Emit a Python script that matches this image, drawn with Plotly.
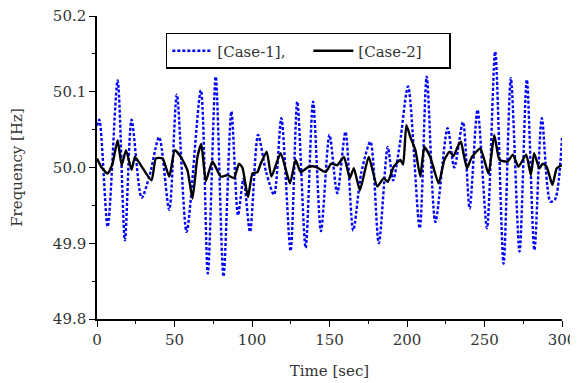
import plotly.graph_objects as go

# Case-1 (blue dotted)
t_case1 = [0, 1.5, 6.9, 13.3, 18, 22.3, 28.8, 34, 40.1, 46.6, 51.5, 57.8, 67, 71.5, 76.6,
           81.6, 86.7, 91, 94.5, 98.7, 103.9, 109, 114.2, 118.9, 124.9, 129.2, 134.6, 139.4,
           144.5, 150, 155, 160.3, 165.3, 170.5, 176.4, 181.8, 187.6, 191, 195.3, 200.7,
           208.2, 212.7, 218.3, 226.2, 230.5, 236.1, 240.4, 245.5, 251.6, 256.9, 262.3,
           267, 272.6, 277.3, 282.2, 287, 292.5, 295.5, 300]
f_case1 = [50.055, 50.063, 49.922, 50.115, 49.904, 50.063, 49.960, 49.990, 50.040, 49.944,
           50.096, 49.915, 50.102, 49.860, 50.120, 49.856, 50.074, 49.937, 49.985, 49.915,
           50.043, 49.995, 49.964, 50.065, 49.890, 50.087, 49.894, 50.087, 49.916, 50.043,
           49.966, 50.047, 49.917, 49.993, 50.034, 49.900, 50.027, 49.983, 50.030, 50.107,
           49.920, 50.120, 49.928, 50.052, 50.000, 50.060, 49.946, 50.076, 49.920, 50.153,
           49.873, 50.118, 49.889, 50.116, 49.891, 50.065, 49.955, 49.958, 50.039]

# Case-2 (black solid)
t_case2 = [0, 3, 6.9, 10, 13.3, 15.9, 18.7, 22.3, 24.5, 28.3, 35.2, 38, 42.3, 46.6, 50.2,
           54.1, 58.4, 61.6, 64.8, 67.3, 70.2, 74.5, 79.8, 84.2, 88.4, 91.6, 93.8, 97.4,
           100.3, 103.5, 105.6, 109.5, 112.5, 118.5, 124.5, 128.1, 131.4, 136.7, 141, 147.5,
           151.1, 155, 159.3, 163.1, 165.7, 169.6, 175.3, 180.8, 185, 187.6, 191.4, 195.7,
           197.5, 199.6, 202.2, 205.4, 208.6, 211.2, 215, 220.4, 224.1, 227.5, 230, 232.6,
           234.8, 236.5, 238.7, 241.9, 247.3, 252.6, 256.3, 259.7, 264.9, 268.3, 271.9,
           276.9, 279.9, 282, 285.4, 287.5, 290.1, 293.8, 296.6, 300]
f_case2 = [50.012, 50.000, 49.992, 50.005, 50.036, 50.003, 50.023, 49.997, 50.014, 50.003,
           49.983, 50.012, 50.012, 49.988, 50.023, 50.014, 49.996, 49.959, 50.014, 50.031,
           49.982, 50.008, 49.988, 49.990, 49.986, 50.005, 50.000, 49.961, 49.992, 49.994,
           50.005, 50.021, 49.988, 50.019, 49.979, 50.010, 49.994, 50.001, 50.001, 49.994,
           50.005, 50.003, 50.014, 49.986, 49.999, 49.970, 50.014, 49.975, 49.986, 49.981,
           50.001, 50.010, 50.004, 50.056, 50.040, 50.023, 49.988, 50.027, 50.014, 49.979,
           50.010, 50.021, 50.015, 50.027, 50.034, 50.018, 49.999, 50.014, 50.025, 49.992,
           50.043, 50.010, 50.008, 50.017, 50.001, 50.017, 49.990, 50.019, 49.999, 50.005,
           50.001, 49.977, 49.999, 50.003]

x_ticks = [0, 50, 100, 150, 200, 250, 300]
y_ticks = [49.8, 49.9, 50.0, 50.1, 50.2]
y_tick_labels = ["49.8", "49.9", "50.0", "50.1", "50.2"]

FONT = "DejaVu Serif"
TXT = "#333333"

fig = go.Figure()
fig.add_trace(go.Scatter(x=t_case1, y=f_case1, mode="lines", name="[Case-1],",
                         line=dict(color="#0000ff", width=2.4, dash="3px,2px", shape="spline",
                                   smoothing=0.8)))
fig.add_trace(go.Scatter(x=t_case2, y=f_case2, mode="lines", name="[Case-2]",
                         line=dict(color="#000000", width=2.4, shape="spline", smoothing=0.5)))

axis_common = dict(showline=True, linecolor="black", linewidth=1.5, ticks="outside",
                   ticklen=6, tickwidth=1.3, tickcolor="black", showgrid=False,
                   zeroline=False, mirror=False, automargin=False,
                   ticklabeloverflow="allow",
                   tickfont=dict(family=FONT, size=15, color=TXT))

fig.update_layout(
    width=570, height=375,
    margin=dict(l=89, r=16, t=8, b=64),
    paper_bgcolor="white", plot_bgcolor="white",
    showlegend=True,
    legend=dict(orientation="h", x=0.148, y=0.944, xanchor="left", yanchor="top",
                bordercolor="black", borderwidth=1.5, bgcolor="white",
                font=dict(family=FONT, size=15, color=TXT),
                itemwidth=40, entrywidth=86, entrywidthmode="pixels", tracegroupgap=0),
    xaxis=dict(range=[0, 300], tickvals=x_ticks,
               minor=dict(ticks="outside", ticklen=3, dtick=25, tickcolor="black"),
               title=dict(text="Time [sec]", font=dict(family=FONT, size=15, color=TXT),
                          standoff=18),
               **axis_common),
    yaxis=dict(range=[49.8, 50.2], tickvals=y_ticks, ticktext=y_tick_labels,
               minor=dict(ticks="outside", ticklen=3, dtick=0.05, tickcolor="black"),
               title=dict(text="Frequency [Hz]", font=dict(family=FONT, size=15, color=TXT),
                          standoff=27),
               **axis_common),
)

fig.write_html("out.html")
